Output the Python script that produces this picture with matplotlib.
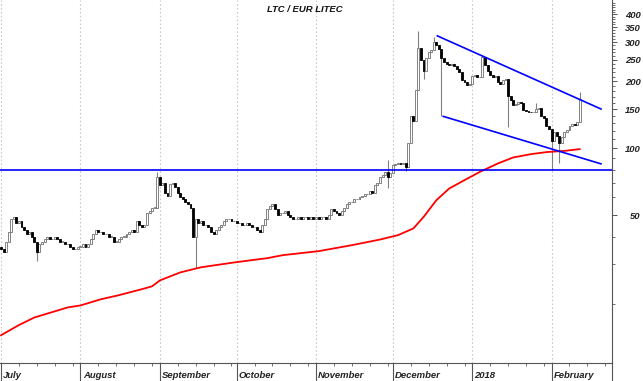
import numpy as np
import matplotlib.pyplot as plt
from matplotlib.ticker import FixedLocator, NullFormatter

plt.rcParams['font.family'] = ['Liberation Sans', 'DejaVu Sans']

# daily closes LTC/EUR, day 0 = 1 July 2017
close_jul = [35, 34, 38, 42, 48, 49, 46, 47, 44, 43, 41, 42, 40, 38, 34, 37, 38, 39, 40, 39,
             39, 40, 39, 38, 38, 37, 37, 36, 35, 35, 36]
close_aug = [36, 37, 36, 37, 39, 41, 43, 42, 42, 41, 41, 40, 40, 38, 38, 39, 40, 40, 41, 42,
             43, 42, 47, 45, 44, 45, 51, 52, 54, 54, 74]
close_sep = [68, 70, 63, 61, 69, 70, 67, 63, 60, 59, 57, 56, 54, 40, 48, 46, 47, 45, 45, 44,
             42, 41, 43, 44, 45, 47, 48, 48, 47, 47]
close_oct = [46, 46, 45, 45, 46, 45, 44, 44, 43, 42, 45, 48, 53, 55, 56, 53, 50, 51, 51, 52,
             50, 49, 48, 48, 49, 48, 49, 49, 48, 49, 48]
close_nov = [49, 48, 49, 49, 48, 50, 53, 52, 51, 50, 52, 54, 56, 57, 57, 59, 59, 60, 61, 62,
             62, 64, 63, 68, 70, 74, 76, 78, 74, 77]
close_dec = [84, 85, 86, 85, 86, 82, 105, 140, 133, 182, 282, 250, 222, 255, 270, 276, 300,
             290, 278, 254, 245, 240, 236, 240, 234, 226, 220, 203, 198, 192, 195]
close_jan = [212, 214, 208, 210, 256, 236, 222, 214, 210, 212, 198, 195, 202, 204, 172, 165,
             156, 158, 162, 160, 148, 147, 146, 145, 146, 150, 152, 140, 136, 126, 122]
close_feb = [108, 118, 114, 105, 112, 118, 121, 126, 128, 127, 131, 166]
first_open = 36

# long wicks (day index: price)
wick_high = {61: 78, 151: 88, 163: 335, 169: 316, 188: 262, 209: 160, 226: 178}
wick_low = {14: 31, 76: 29, 151: 66, 158: 79, 165: 205, 172: 140, 198: 124, 215: 80, 218: 86}

# red moving average
ma_day = [0, 7, 13, 20, 26, 31, 39, 46, 55, 59, 62, 70, 78, 91, 104, 110, 124, 137, 148,
          155, 161, 165, 170, 175, 181, 187, 194, 200, 207, 213, 220, 226]
ma_val = [14.4, 16.0, 17.3, 18.3, 19.2, 19.6, 20.9, 21.8, 23.2, 23.9, 25.4, 27.6, 29.1, 30.6,
          32.0, 33.0, 34.4, 36.6, 38.8, 40.6, 43.5, 49.0, 58.3, 65.8, 71.8, 78.2, 85.3, 90.8,
          94.0, 96.0, 97.2, 99.0]

# trend lines
upper_day, upper_val = [170.4, 234.3], [320, 150]
lower_day, lower_val = [172.7, 234.3], [139, 85]
support = 80

month_start = [0, 31, 62, 92, 123, 153, 184, 215]
month_names = ['July', 'August', 'September', 'October', 'November', 'December', '2018', 'February']
ytick_vals = [50, 100, 150, 200, 250, 300, 350, 400]

close = np.array(close_jul + close_aug + close_sep + close_oct + close_nov
                 + close_dec + close_jan + close_feb, dtype=float)
days = np.arange(len(close))
opens = np.concatenate([[first_open], close[:-1]])
hi = np.maximum(opens, close)
lo = np.minimum(opens, close)
for d, v in wick_high.items():
    hi[d] = v
for d, v in wick_low.items():
    lo[d] = v

fig = plt.figure(figsize=(6.43, 3.81), dpi=100)
ax = fig.add_axes([0, 18 / 381, 612 / 643, 363 / 381])
ax.set_yscale('log')

ax.vlines(days, lo, hi, color='#808080', lw=0.8, zorder=2)
up = close >= opens
bot = np.minimum(opens, close)
hgt = np.maximum(np.abs(close - opens), 0.004 * close)
ax.bar(days[up], hgt[up], bottom=bot[up], width=0.75, color='white',
       edgecolor='#707070', lw=0.6, zorder=3)
ax.bar(days[~up], hgt[~up], bottom=bot[~up], width=0.75, color='black',
       edgecolor='black', lw=0.6, zorder=3)

ax.plot(ma_day, ma_val, color='#ff0000', lw=1.3, zorder=4, solid_joinstyle='round')
ax.axhline(support, color='#0000ff', lw=1.2, zorder=5)
ax.plot(upper_day, upper_val, color='#0000ff', lw=1.2, zorder=5)
ax.plot(lower_day, lower_val, color='#0000ff', lw=1.2, zorder=5)

ax.set_xlim(-0.4, 238.6)
ax.set_ylim(10.8, 464)

# x axis: month separators + weekly minor ticks
ax.set_xticks(month_start)
ax.set_xticklabels([])
ax.xaxis.set_minor_locator(FixedLocator([m + k for m in month_start for k in (7, 14, 21, 28)
                                         if m + k < 238]))
ax.tick_params(axis='x', which='major', direction='out', length=13, width=0.8, color='#555555')
ax.tick_params(axis='x', which='minor', direction='out', length=2.5, width=0.6, color='#555555')
ax.grid(axis='x', which='major', linestyle=(0, (1.5, 2)), color='#c8c8c8', lw=0.8)
for m, name in zip(month_start, month_names):
    ax.text(m + 0.9, -0.022, name, transform=ax.get_xaxis_transform(), ha='left', va='top',
            fontsize=6.8, fontweight='bold', fontstyle='italic', color='#222222')
ax.plot([1, 1], [0, -0.05], transform=ax.transAxes, color='#555555', lw=0.8, clip_on=False)

# y axis on the right
ax.yaxis.tick_right()
ax.yaxis.set_major_locator(FixedLocator(ytick_vals))
ax.yaxis.set_minor_locator(FixedLocator([v for v in list(range(20, 100, 10)) + list(range(110, 460, 10))
                                         if v not in ytick_vals]))
ax.yaxis.set_minor_formatter(NullFormatter())
ax.set_yticklabels([str(v) for v in ytick_vals])
ax.tick_params(axis='y', which='major', direction='out', length=3.5, width=0.7,
               color='#555555', pad=17, labelsize=6.8)
ax.tick_params(axis='y', which='minor', direction='out', length=2, width=0.6, color='#555555')
for lab in ax.get_yticklabels():
    lab.set_horizontalalignment('right')
    lab.set_fontweight('bold')
    lab.set_fontstyle('italic')
    lab.set_color('#222222')

for s in ['top', 'left']:
    ax.spines[s].set_visible(False)
ax.spines['right'].set_color('#555555')
ax.spines['bottom'].set_color('#555555')

ax.text(0.498, 0.975, 'LTC / EUR LITEC', transform=ax.transAxes, ha='center', va='center',
        fontsize=6.8, fontweight='bold', fontstyle='italic', color='#111111')

fig.savefig('out.png', dpi=100)
